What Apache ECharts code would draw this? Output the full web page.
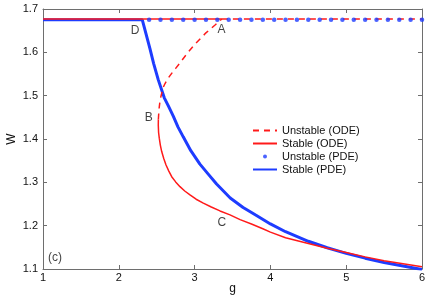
<!DOCTYPE html>
<html><head><meta charset="utf-8">
<script src="https://cdn.jsdelivr.net/npm/echarts@6/dist/echarts.min.js"></script>
<style>html,body{margin:0;padding:0;background:#fff}#c{width:436px;height:300px}</style>
</head><body><div id="c"></div>
<script>
// ---- data ----
const xTicks = [1, 2, 3, 4, 5, 6];
const yTicks = [1.1, 1.2, 1.3, 1.4, 1.5, 1.6, 1.7];

// ODE, stable branch along the top (1 .. A)
const odeTopStableG = [1, 3.36];
const odeTopStableW = [1.677, 1.677];
// ODE, unstable branch along the top (A .. 6)
const odeTopUnstableG = [3.36, 6];
const odeTopUnstableW = [1.677, 1.677];
// ODE, unstable branch from B up to A
const odeUnstableG = [2.522, 2.53, 2.545, 2.565, 2.58, 2.61, 2.65, 2.70, 2.75, 2.80, 2.90, 3.00, 3.15, 3.27, 3.36];
const odeUnstableW = [1.445, 1.468, 1.490, 1.505, 1.517, 1.528, 1.540, 1.552, 1.563, 1.574, 1.597, 1.618, 1.645, 1.663, 1.677];
// ODE, stable lower branch from B through C
const odeStableG = [2.522, 2.521, 2.525, 2.534, 2.548, 2.566, 2.593, 2.623, 2.66, 2.698, 2.75, 2.807, 2.87, 2.939, 3.02, 3.115, 3.22, 3.335, 3.467, 3.60, 3.75, 3.90, 4.00, 4.20, 4.50, 4.75, 5.00, 5.25, 5.50, 5.75, 6.00];
const odeStableW = [1.445, 1.432, 1.415, 1.402, 1.386, 1.371, 1.355, 1.340, 1.326, 1.313, 1.301, 1.290, 1.280, 1.271, 1.261, 1.252, 1.243, 1.234, 1.225, 1.214, 1.204, 1.193, 1.185, 1.172, 1.159, 1.148, 1.138, 1.128, 1.119, 1.112, 1.105];
// PDE, stable branch (top to D, then down)
const pdeStableG = [1, 2.31, 2.36, 2.41, 2.46, 2.52, 2.60, 2.66, 2.72, 2.78, 2.85, 2.95, 3.07, 3.18, 3.29, 3.47, 3.64, 3.80, 4.00, 4.20, 4.50, 4.75, 5.00, 5.25, 5.50, 5.75, 6.00];
const pdeStableW = [1.675, 1.675, 1.642, 1.609, 1.574, 1.537, 1.495, 1.474, 1.452, 1.428, 1.405, 1.373, 1.342, 1.319, 1.296, 1.264, 1.242, 1.225, 1.204, 1.186, 1.164, 1.149, 1.136, 1.125, 1.115, 1.107, 1.099];
// PDE, unstable points along the top
const pdeUnstableG = [2.4, 2.55, 2.7, 2.85, 3.0, 3.15, 3.3, 3.45, 3.6, 3.75, 3.9, 4.05, 4.2, 4.35, 4.5, 4.65, 4.8, 4.95, 5.1, 5.25, 5.4, 5.55, 5.7, 5.85, 6.0];
const pdeUnstableW = [1.675, 1.675, 1.675, 1.675, 1.675, 1.675, 1.675, 1.675, 1.675, 1.675, 1.675, 1.675, 1.675, 1.675, 1.675, 1.675, 1.675, 1.675, 1.675, 1.675, 1.675, 1.675, 1.675, 1.675, 1.675];
// point labels (anchored in data units)
const noteText = ['D', 'A', 'B', 'C', '(c)'];
const noteG = [2.215, 3.355, 2.395, 3.36, 1.158];
const noteW = [1.651, 1.652, 1.450, 1.208, 1.126];

const legendNames = ['Unstable (ODE)', 'Stable (ODE)', 'Unstable (PDE)', 'Stable (PDE)'];
const xName = 'g';
const yName = 'W';

// ---- chart ----
const zip = (a, b) => a.map((v, i) => [v, b[i]]);
const RED = '#ff1a1a', BLUE = '#1e3cff', AXIS = '#6e6e6e';
const FONT = '"Liberation Sans", Arial, sans-serif';
const DASH = [6, 5];

const chart = echarts.init(document.getElementById('c'), null, {renderer: 'canvas'});
const axisCommon = {
  type: 'value',
  axisLine: {show: true, onZero: false, lineStyle: {color: AXIS, width: 1}},
  axisTick: {show: true, inside: true, length: 4, lineStyle: {color: AXIS}},
  splitLine: {show: false},
};
const lineCommon = {type: 'line', showSymbol: false, symbol: 'none', smooth: false, silent: true};
chart.setOption({
  animation: false,
  backgroundColor: '#fff',
  textStyle: {fontFamily: FONT},
  grid: {left: 43, right: 14, top: 9, bottom: 31, containLabel: false, outerBoundsMode: 'none'},
  xAxis: [
    Object.assign({}, axisCommon, {
      min: xTicks[0], max: xTicks[xTicks.length - 1], interval: 1, position: 'bottom',
      axisLabel: {color: '#111', fontSize: 11, fontFamily: FONT, margin: 3},
      name: xName, nameLocation: 'middle', nameGap: 14, nameMoveOverlap: false,
      nameTextStyle: {color: '#111', fontSize: 12, fontFamily: FONT}
    }),
    Object.assign({}, axisCommon, {
      min: xTicks[0], max: xTicks[xTicks.length - 1], interval: 1, position: 'top',
      axisLabel: {show: false}
    })
  ],
  yAxis: [
    Object.assign({}, axisCommon, {
      min: yTicks[0], max: yTicks[yTicks.length - 1], interval: 0.1, position: 'left',
      axisLabel: {color: '#111', fontSize: 11, fontFamily: FONT, margin: 5,
        formatter: v => v.toFixed(1)},
      name: yName, nameLocation: 'middle', nameGap: 25, nameRotate: 90, nameMoveOverlap: false,
      nameTextStyle: {color: '#111', fontSize: 12, fontFamily: FONT}
    }),
    Object.assign({}, axisCommon, {
      min: yTicks[0], max: yTicks[yTicks.length - 1], interval: 0.1, position: 'right',
      axisLabel: {show: false}
    })
  ],
  legend: {
    orient: 'vertical', left: 252, top: 124, padding: 0,
    itemWidth: 24, itemHeight: 4, itemGap: 0,
    textStyle: {fontSize: 11, fontFamily: FONT, color: '#111', lineHeight: 13},
    data: [
      {name: legendNames[0], itemStyle: {opacity: 0}},
      {name: legendNames[1], itemStyle: {opacity: 0}},
      {name: legendNames[2]},
      {name: legendNames[3], itemStyle: {opacity: 0}}
    ]
  },
  series: [
    Object.assign({}, lineCommon, {name: legendNames[3], data: zip(pdeStableG, pdeStableW),
     lineStyle: {color: BLUE, width: 3}, itemStyle: {color: BLUE}, z: 2}),
    Object.assign({}, lineCommon, {name: legendNames[1], data: zip(odeStableG, odeStableW),
     lineStyle: {color: RED, width: 1.5}, itemStyle: {color: RED}, z: 3}),
    Object.assign({}, lineCommon, {name: legendNames[1], data: zip(odeTopStableG, odeTopStableW),
     lineStyle: {color: RED, width: 1.5}, itemStyle: {color: RED}, z: 3}),
    Object.assign({}, lineCommon, {name: legendNames[0], data: zip(odeUnstableG, odeUnstableW),
     lineStyle: {color: RED, width: 1.5, type: DASH}, itemStyle: {color: RED}, z: 3}),
    Object.assign({}, lineCommon, {name: legendNames[0], data: zip(odeTopUnstableG, odeTopUnstableW),
     lineStyle: {color: RED, width: 1.5, type: DASH}, itemStyle: {color: RED}, z: 3}),
    {name: legendNames[2], type: 'scatter', data: zip(pdeUnstableG, pdeUnstableW), symbol: 'circle', symbolSize: 4.5,
     itemStyle: {color: BLUE}, z: 4, silent: true},
    {name: 'notes', type: 'scatter', data: noteG.map((g, i) => ({value: [g, noteW[i]], name: noteText[i]})),
     symbolSize: 0, itemStyle: {color: 'rgba(0,0,0,0)'}, silent: true, z: 5,
     label: {show: true, position: 'inside', align: 'center', verticalAlign: 'middle',
       formatter: p => p.name, color: '#111', fontSize: 12, fontFamily: FONT}}
  ]
});
</script></body></html>
